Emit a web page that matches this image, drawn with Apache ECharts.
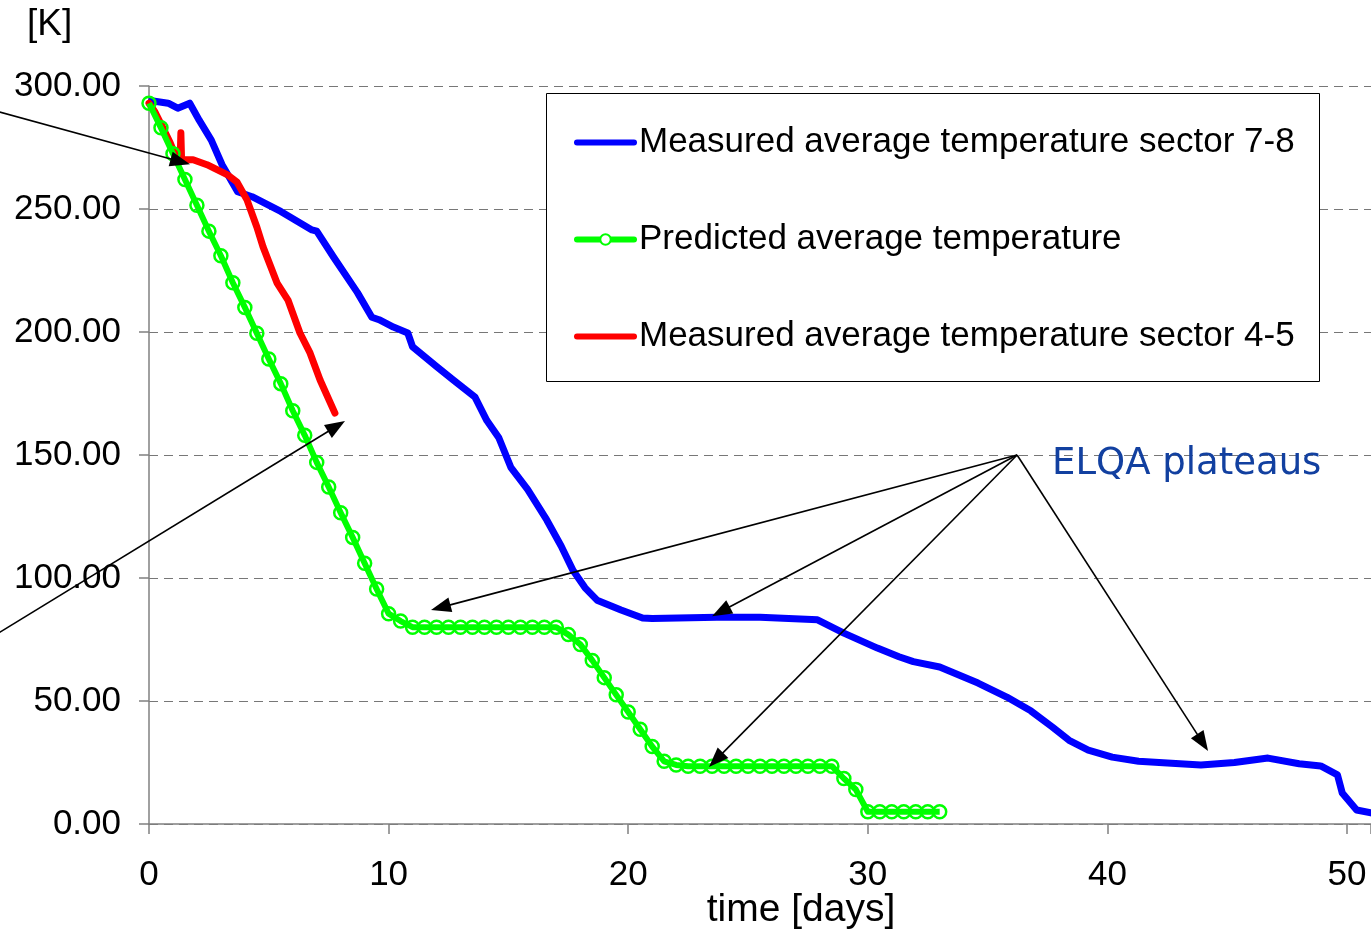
<!DOCTYPE html>
<html><head><meta charset="utf-8">
<script src="https://cdn.jsdelivr.net/npm/echarts@6/dist/echarts.min.js"></script>
<style>html,body{margin:0;padding:0;background:#fff;overflow:hidden}#c{width:1371px;height:930px}</style>
</head><body><div id="c"></div>
<script>
// ---- data ----
const xTickValues = [0, 10, 20, 30, 40, 50];
const yTickValues = [0, 50, 100, 150, 200, 250, 300];
const seriesNames = ['Measured average temperature sector 7-8', 'Predicted average temperature', 'Measured average temperature sector 4-5'];

const blueData = [[0.1,294],[0.8,293],[1.2,291],[1.7,293],[2.1,286],[2.6,278],[3.05,268],[3.7,257],[4.3,255],[5.5,249],[6.8,241.5],[7.0,241],[7.7,230.5],[8.7,216],[9.3,206],[9.6,205],[10.2,202],[10.8,199.6],[11.0,194],[12.0,186],[12.7,180.5],[13.6,173.6],[14.1,164],[14.6,157],[15.1,145],[15.8,136],[16.6,123.6],[17.2,113],[17.7,103],[18.2,96],[18.7,91],[19.7,87],[20.6,83.7],[21,83.5],[23.7,84],[25.5,84],[27.9,83],[29.0,77.6],[30.4,71.5],[31.3,68],[31.9,66],[33.0,63.8],[34.6,57.3],[35.8,51.6],[36.8,46],[37.7,39.4],[38.4,34],[39.2,30],[40.2,27.2],[41.3,25.5],[42.5,24.8],[43.9,24],[45.3,25],[46.7,26.8],[48.0,24.5],[48.9,23.6],[49.6,20],[49.8,12.6],[50.4,5.7],[51.0,4.5]];

const greenData = [[0,293],[0.5,283],[1,272.5],[1.5,262],[2,251.5],[2.5,241],[3,231],[3.5,220],[4,210],[4.5,199.5],[5,189],[5.5,179],[6,168],[6.5,158],[7,147],[7.5,137],[8,126.5],[8.5,116.5],[9,106],[9.5,95.5],[10,85.5],[10.5,82.5],[11,80],[11.5,80],[12,80],[12.5,80],[13,80],[13.5,80],[14,80],[14.5,80],[15,80],[15.5,80],[16,80],[16.5,80],[17,80],[17.5,77],[18,73],[18.5,66.5],[19,59.5],[19.5,52.5],[20,45.5],[20.5,38.5],[21,31.5],[21.5,25.5],[22,24],[22.5,23.5],[23,23.5],[23.5,23.5],[24,23.5],[24.5,23.5],[25,23.5],[25.5,23.5],[26,23.5],[26.5,23.5],[27,23.5],[27.5,23.5],[28,23.5],[28.5,23.5],[29,18.5],[29.5,14],[30,5],[30.5,5],[31,5],[31.5,5],[32,5],[32.5,5],[33,5]];

const redData = [[0,293],[0.25,289.4],[0.58,283],[0.88,277],[1.09,272],[1.3,270],[1.33,281],[1.36,270],[1.84,270],[2.42,268],[3.26,264],[3.67,261],[4.09,253.7],[4.5,242.7],[4.76,234.6],[5.34,220],[5.8,213],[6.3,199.6],[6.72,191.5],[7.14,180.5],[7.76,167]];

// annotation arrows [from, to] in data coordinates
const arrowsData = [
  [[-6.3,289.6],[1.71,268.2]],
  [[-6.3,77.5],[8.18,163.8]],
  [[36.23,150],[11.77,87]],
  [[36.23,150],[23.5,84.5]],
  [[36.23,150],[23.37,23.2]],
  [[36.23,150],[44.2,29.7]]
];
const elqaLabel = 'ELQA plateaus';
const elqaPos = [37.69, 146.0];

// ---- chart ----
const FONT = 'Liberation Sans';
const chart = echarts.init(document.getElementById('c'), null, {renderer:'canvas'});
const option = {
  backgroundColor:'#fff',
  animation:false,
  title:{text:'[K]', left:27, top:6, padding:0, textStyle:{fontFamily:FONT, fontSize:37, fontWeight:'normal', color:'#000'}},
  grid:{left:149, right:0, top:86, bottom:106, containLabel:false, outerBoundsMode:'none'},
  xAxis:{
    type:'value', min:0, max:51, interval:10,
    name:'time [days]', nameLocation:'middle', nameGap:67, nameMoveOverlap:false,
    nameTextStyle:{fontFamily:FONT, fontSize:39, color:'#000', padding:[0,0,0,82]},
    axisLine:{show:true, lineStyle:{color:'#808080', width:1.5}},
    axisTick:{show:true, length:10, lineStyle:{color:'#808080', width:1.5}},
    axisLabel:{fontFamily:FONT, fontSize:35, color:'#000', margin:34,
      formatter:v => xTickValues.indexOf(v) >= 0 ? String(v) : ''},
    splitLine:{show:false}
  },
  yAxis:{
    type:'value', min:0, max:300, interval:50,
    axisLine:{show:true, lineStyle:{color:'#808080', width:1.5}},
    axisTick:{show:true, length:10, lineStyle:{color:'#808080', width:1.5}},
    axisLabel:{fontFamily:FONT, fontSize:35, color:'#000', margin:28,
      formatter:v => yTickValues.indexOf(v) >= 0 ? v.toFixed(2) : ''},
    splitLine:{show:true, lineStyle:{color:'#777', width:1, type:[9,6]}}
  },
  legend:{
    orient:'vertical', left:574, top:94, padding:0, itemGap:0, itemWidth:57, itemHeight:13,
    selectedMode:false, z:10,
    lineStyle:{width:6, cap:'round'},
    data:[
      {name:seriesNames[0], itemStyle:{opacity:0}},
      {name:seriesNames[1], itemStyle:{color:'#fff', borderColor:'#00ff00', borderWidth:2}},
      {name:seriesNames[2], itemStyle:{opacity:0}}
    ],
    textStyle:{fontFamily:FONT, fontSize:35, color:'#000', lineHeight:97}
  },
  series:[
    {name:seriesNames[0], type:'line', data:blueData, symbol:'none', z:2,
      lineStyle:{color:'#0000ff', width:7, cap:'round', join:'round'}, itemStyle:{color:'#0000ff'}},
    {name:seriesNames[2], type:'line', data:redData, symbol:'none', z:3,
      lineStyle:{color:'#ff0000', width:7, cap:'round', join:'round'}, itemStyle:{color:'#ff0000'}},
    {name:seriesNames[1], type:'line', data:greenData, symbol:'circle', symbolSize:13, showSymbol:true, z:4,
      lineStyle:{color:'#00ff00', width:6, join:'round'},
      itemStyle:{color:'rgba(255,255,255,0)', borderColor:'#00ff00', borderWidth:2.5}}
  ]
};
chart.setOption(option);

// annotations placed via the chart's own coordinate conversion
const px = p => chart.convertToPixel({gridIndex:0}, p);
const graphics = [{
  type:'rect', z:5, silent:true,
  shape:{x:546.5, y:93.5, width:773, height:288},
  style:{fill:'#fff', stroke:'#000', lineWidth:1}
}];
arrowsData.forEach(([a,b]) => {
  const p0 = px(a), p1 = px(b);
  const dx = p1[0]-p0[0], dy = p1[1]-p0[1];
  const len = Math.sqrt(dx*dx+dy*dy);
  const ux = dx/len, uy = dy/len;
  const L = 20, W = 7.5;
  const bx = p1[0]-ux*L, by = p1[1]-uy*L;
  graphics.push({type:'line', z:20, silent:true, shape:{x1:p0[0], y1:p0[1], x2:bx+ux*2, y2:by+uy*2}, style:{stroke:'#000', lineWidth:1.6}});
  graphics.push({type:'polygon', z:20, silent:true, shape:{points:[[p1[0],p1[1]],[bx-uy*W, by+ux*W],[bx+uy*W, by-ux*W]]}, style:{fill:'#000'}});
});
const tp = px(elqaPos);
graphics.push({type:'text', z:20, silent:true, x:tp[0], y:tp[1],
  style:{text:elqaLabel, font:'37px "DejaVu Sans"', fill:'#1240a0', verticalAlign:'middle', align:'left'}});
chart.setOption({graphic:graphics});
</script>
</body></html>
